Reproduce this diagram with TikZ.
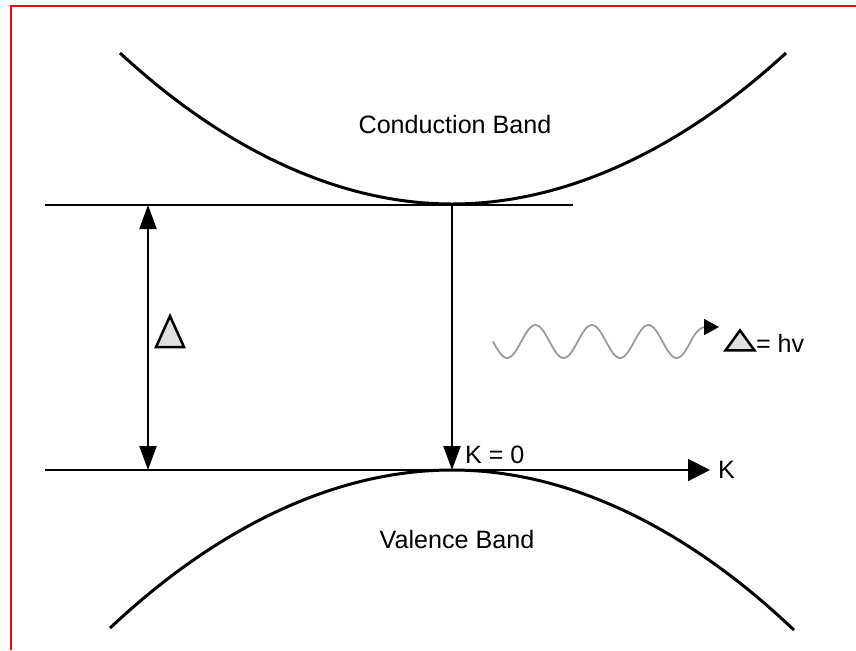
\documentclass[tikz,border=0pt]{standalone}
\usepackage{fontspec}
\setmainfont{Liberation Sans}
\usetikzlibrary{arrows.meta, positioning, shapes.geometric}

\begin{document}
\begin{tikzpicture}[
    x=0.02cm, y=-0.02cm,
    band/.style={line width=0.06cm},
    level/.style={line width=0.04cm},
    arrow/.style={-{Triangle[length=0.48cm, width=0.34cm]}, line width=0.04cm},
    dblarrow/.style={{Triangle[length=0.48cm, width=0.34cm]}-{Triangle[length=0.48cm, width=0.34cm]}, line width=0.04cm},
    lbl/.style={font=\fontsize{14.3}{17}\selectfont, inner sep=1pt},
    deltasym/.style={isosceles triangle, shape border rotate=90,
                isosceles triangle stretches, draw, line width=0.05cm,
                fill=gray!25, inner sep=0pt}
]
\useasboundingbox (0,0) rectangle (856,650);

% === FRAME ===
\draw[red, line width=0.045cm] (856,6) -- (11,6) -- (11,650);

% === BANDS ===
\coordinate (cbmin) at (452,204);
\coordinate (vbmax) at (452,470);
\draw[band] (120,53) parabola bend (cbmin) (786,53);
\draw[band] (110,628) parabola bend (vbmax) (794,630);
\node[lbl] (cb) at (455,125) {Conduction Band};
\node[lbl] (vb) at (457,540) {Valence Band};

% === LEVELS ===
\coordinate (lvl1) at (45,205);
\coordinate (lvl2) at (573,205);
\coordinate (axl) at (45,470);
\coordinate (axr) at (710,470);
\draw[level] (lvl1) -- (lvl2);
\draw[level, -{Triangle[length=0.44cm, width=0.44cm]}] (axl) -- (axr);
\node[lbl, right=0.12cm of axr] (kaxis) {K};

% === GAP ===
\coordinate (gtop) at (148,205);
\coordinate (gbot) at (148,470);
\draw[dblarrow] (gtop) -- (gbot);
\node[deltasym, minimum width=0.56cm, minimum height=0.62cm] (gap) at (170,338) {};

% === TRANSITION ===
\draw[arrow] (cbmin |- lvl1) -- (vbmax);
\node[lbl, anchor=base west] (kzero) at (463,463) {K = 0};

% === PHOTON ===
\node[deltasym, minimum width=0.58cm, minimum height=0.40cm] (photon) at (740,343) {};
\node[lbl, right=0.06cm of photon] (energy) {= hv};
\coordinate (wtip) at (719,327);
\draw[gray!80, line width=0.035cm, -{Triangle[length=0.3cm, width=0.32cm, black]}]
    plot[domain=493:690.75, samples=120] (\x, {341.5+16.5*sin(6.3717*(\x-493))})
    .. controls (696,330) and (703,327) .. (wtip);

\end{tikzpicture}
\end{document}
